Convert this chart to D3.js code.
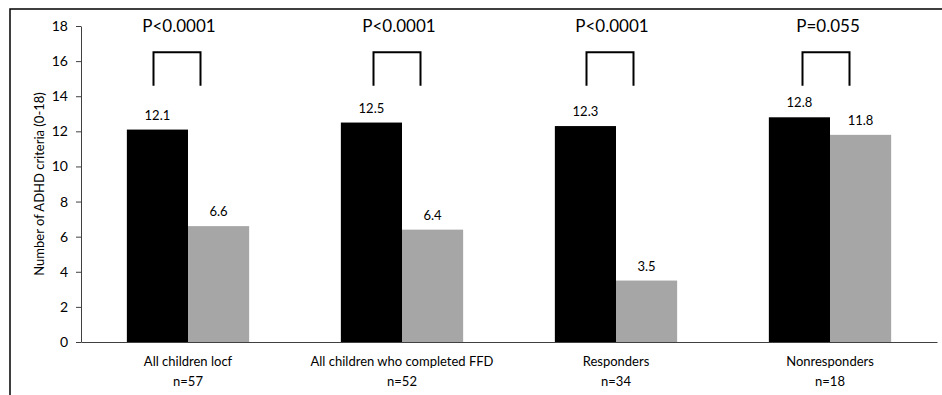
<!DOCTYPE html>
<html>
<head>
<meta charset="utf-8">
<script src="https://cdn.jsdelivr.net/npm/d3@7"></script>
<style>
  body { margin: 0; background: #fff; }
  svg text { font-family: Lato, "Noto Sans", sans-serif; fill: #000; }
  .axis path, .axis line { stroke: #404040; }
</style>
</head>
<body>
<script>
var categories = ["All children locf", "All children who completed FFD", "Responders", "Nonresponders"];
var sampleSizes = ["n=57", "n=52", "n=34", "n=18"];
var series = ["before", "after"];
var before = [12.1, 12.5, 12.3, 12.8];
var after = [6.6, 6.4, 3.5, 11.8];
var pValues = ["P<0.0001", "P<0.0001", "P<0.0001", "P=0.055"];
var yTicks = [0, 2, 4, 6, 8, 10, 12, 14, 16, 18];
var yLabel = "Number of ADHD criteria (0-18)";

var width = 942,
    height = 395;

var margin = {left: 81, right: 5, top: 26, bottom: 53};
var colors = {before: "#000000", after: "#a6a6a6"};

// bracket spans (data units) and small per-group nudges, as placed in the original
var bracketLow = 14.6, bracketHigh = 16.5, bracketWidth = 47;
var bracketNudge = [-11, -5, -6, -4];

var svg = d3.select("body")
    .append("svg")
    .attr("width", width)
    .attr("height", height);

// outer frame
svg.append("rect")
    .attr("x", 10)
    .attr("y", 9)
    .attr("width", width + 20)
    .attr("height", height + 20)
    .attr("fill", "none")
    .attr("stroke", "#000")
    .attr("stroke-width", 1.5);

var x0 = d3.scaleBand()
    .domain(categories)
    .range([margin.left, width - margin.right])
    .padding(0);

var step = x0.bandwidth();
var barW = step / 3.5; // excel gap width 150%
var x1 = d3.scaleBand()
    .domain(series)
    .range([(step - 2 * barW) / 2, (step + 2 * barW) / 2])
    .padding(0);

var y = d3.scaleLinear()
    .domain([0, 18])
    .range([height - margin.bottom, margin.top]);

var rows = categories.map(function(c, i) {
    return {cat: c, n: sampleSizes[i], before: before[i], after: after[i], p: pValues[i], i: i};
});

// y axis
var yAxis = svg.append("g")
    .attr("class", "axis")
    .attr("transform", "translate(" + margin.left + ",0)")
    .call(d3.axisLeft(y).tickValues(yTicks).tickSize(5).tickSizeOuter(0).tickPadding(8));
yAxis.selectAll("text").style("font-size", "14px");

// bars
var groups = svg.selectAll("g.group")
    .data(rows)
    .enter()
    .append("g")
    .attr("class", "group")
    .attr("transform", function(d) { return "translate(" + x0(d.cat) + ",0)"; });

groups.selectAll("rect")
    .data(function(d) { return series.map(function(s) { return {key: s, value: d[s]}; }); })
    .enter()
    .append("rect")
    .attr("x", function(d) { return x1(d.key); })
    .attr("width", x1.bandwidth())
    .attr("y", function(d) { return y(d.value); })
    .attr("height", function(d) { return y(0) - y(d.value); })
    .attr("fill", function(d) { return colors[d.key]; });

groups.selectAll("text.val")
    .data(function(d) { return series.map(function(s) { return {key: s, value: d[s]}; }); })
    .enter()
    .append("text")
    .attr("class", "val")
    .attr("x", function(d) { return x1(d.key) + x1.bandwidth() / 2; })
    .attr("y", function(d) { return y(d.value) - 10; })
    .attr("text-anchor", "middle")
    .style("font-size", "13px")
    .text(function(d) { return d.value.toFixed(1); });

// x axis
var xAxis = svg.append("g")
    .attr("class", "axis")
    .attr("transform", "translate(0," + y(0) + ")")
    .call(d3.axisBottom(x0).tickSize(0).tickSizeOuter(0).tickFormat(""));

xAxis.selectAll(".tick text").remove();
xAxis.selectAll(".tick")
    .data(rows)
    .append("text")
    .style("font-size", "13px")
    .attr("text-anchor", "middle")
    .each(function(d) {
        var t = d3.select(this);
        t.append("tspan").attr("x", 0).attr("y", 24).text(d.cat);
        t.append("tspan").attr("x", 0).attr("y", 44).text(d.n);
    });

// significance brackets
groups.append("path")
    .attr("fill", "none")
    .attr("stroke", "#000")
    .attr("stroke-width", 2)
    .attr("d", function(d) {
        var cx = step / 2 + bracketNudge[d.i];
        var l = cx - bracketWidth / 2, r = cx + bracketWidth / 2;
        return "M" + l + "," + y(bracketLow) + "V" + y(bracketHigh) + "H" + r + "V" + y(bracketLow);
    });

groups.append("text")
    .attr("x", function(d) { return step / 2 + bracketNudge[d.i] + 2; })
    .attr("y", y(18) + 6)
    .attr("text-anchor", "middle")
    .style("font-size", "17px")
    .text(function(d) { return d.p; });

// y label
svg.append("text")
    .attr("transform", "translate(44," + (y(9)) + ") rotate(-90)")
    .attr("text-anchor", "middle")
    .style("font-size", "13px")
    .text(yLabel);
</script>
</body>
</html>
